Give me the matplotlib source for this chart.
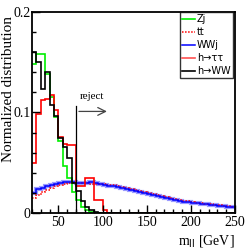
import numpy as np
import matplotlib
matplotlib.use("Agg")
import matplotlib.pyplot as plt
from matplotlib.ticker import MultipleLocator
from matplotlib.lines import Line2D

edges = np.arange(20, 255, 5)  # 5 GeV bins 20..250

zj = [0.148, 0.158, 0.158, 0.138, 0.115, 0.095, 0.072, 0.047, 0.035, 0.021,
      0.013, 0.006, 0.003, 0.001] + [0.0] * 32
hww = [0.160, 0.150, 0.123, 0.140, 0.107, 0.096, 0.075, 0.066, 0.055, 0.030,
       0.022, 0.012, 0.006, 0.003, 0.001] + [0.0] * 31
htt = [0.050, 0.098, 0.112, 0.113, 0.117, 0.102, 0.076, 0.069, 0.068, 0.068,
       0.027, 0.027, 0.035, 0.035, 0.013, 0.013, 0.003] + [0.0] * 29
wwj = [0.020, 0.024, 0.025, 0.027, 0.028, 0.029, 0.030, 0.031, 0.031, 0.031,
       0.030, 0.030, 0.030, 0.031, 0.030, 0.029,
       0.028, 0.027, 0.027, 0.026, 0.025, 0.024, 0.023, 0.022, 0.021, 0.020,
       0.019, 0.018, 0.017, 0.016, 0.015, 0.014, 0.013, 0.012, 0.011, 0.011,
       0.010, 0.0095, 0.009, 0.0085, 0.008, 0.0075, 0.007, 0.0068, 0.0062, 0.0058]
tt = [0.015, 0.018, 0.021, 0.023, 0.025, 0.027, 0.028, 0.029, 0.030, 0.030,
      0.030, 0.030, 0.030, 0.029, 0.029, 0.029,
      0.029, 0.028, 0.028, 0.027, 0.026, 0.025, 0.024, 0.023, 0.022, 0.021,
      0.020, 0.019, 0.018, 0.017, 0.016, 0.015, 0.014, 0.013, 0.012, 0.0115,
      0.011, 0.010, 0.0095, 0.009, 0.0085, 0.008, 0.0075, 0.007, 0.0065, 0.006]

cut = 70.0
reject_label = "reject"
legend_labels = ["Zj", "tt", "WWj", "h\u2192\u03c4\u03c4", "h\u2192WW"]

fig = plt.figure(figsize=(2.48, 2.49), dpi=100)
ax = fig.add_axes([0.129, 0.145, 0.819, 0.807])

ax.stairs(wwj, edges, color="#9a9aff", lw=3.0, baseline=None)
ax.stairs(tt, edges, color="red", lw=1.1, ls=(0, (1, 1)), baseline=None)
ax.stairs(wwj, edges, color="blue", lw=1.1, baseline=None)
ax.stairs(zj, edges, color="#00ee00", lw=1.2, baseline=None)
ax.stairs(htt, edges, color="red", lw=1.2, baseline=None)
ax.stairs(hww, edges, color="black", lw=1.2, baseline=None)

ax.plot([cut, cut], [0, 0.106], color="black", lw=0.9)
ax.annotate("", xy=(108, 0.101), xytext=(cut, 0.101),
            arrowprops=dict(arrowstyle="->", color="#444444", lw=0.9, mutation_scale=14))
ax.text(74.5, 0.116, reject_label, fontsize=8, family="Liberation Serif",
        va="center", ha="left")

ax.set_xlim(20, 250)
ax.set_ylim(0, 0.2)
ax.xaxis.set_major_locator(MultipleLocator(50))
ax.xaxis.set_minor_locator(MultipleLocator(10))
ax.yaxis.set_minor_locator(MultipleLocator(0.02))
ax.tick_params(which="both", direction="in", top=False, right=False)
ax.tick_params(which="major", length=6, width=1.0, labelsize=10, pad=2)
ax.tick_params(axis="y", which="major", pad=1)
ax.tick_params(which="minor", length=3, width=1.0)
ax.set_yticks([0, 0.1, 0.2])
ax.set_yticklabels(["0", "0.1", "0.2"])
for lab in ax.get_xticklabels() + ax.get_yticklabels():
    lab.set_family("Liberation Serif")
for s in ax.spines.values():
    s.set_linewidth(1.3)

ax.set_ylabel("Normalized distribution", family="Liberation Serif", fontsize=11)
ax.yaxis.set_label_coords(-0.116, 0.615)
ax.yaxis.label.set_va("center")
ax.set_xlabel(r"m$_{\rm ll}$ [GeV]", family="Liberation Serif", fontsize=10)
ax.xaxis.set_label_coords(1.0, -0.1)
ax.xaxis.label.set_ha("right")

leg_handles = [Line2D([], [], color="#00ee00", lw=1.2),
               Line2D([], [], color="red", lw=1.1, ls=(0, (1, 1))),
               Line2D([], [], color="blue", lw=1.1),
               Line2D([], [], color="#ff5050", lw=1.2),
               Line2D([], [], color="black", lw=1.2)]
leg = ax.legend(leg_handles, legend_labels, loc="upper right", bbox_to_anchor=(0.99, 1.0),
                fontsize=7, frameon=True, fancybox=False, edgecolor="black",
                handlelength=1.3, handletextpad=0.25, borderpad=0.25, labelspacing=0.3,
                borderaxespad=0.0)
leg.get_frame().set_linewidth(1.0)

fig.savefig("out.png", dpi=100)
